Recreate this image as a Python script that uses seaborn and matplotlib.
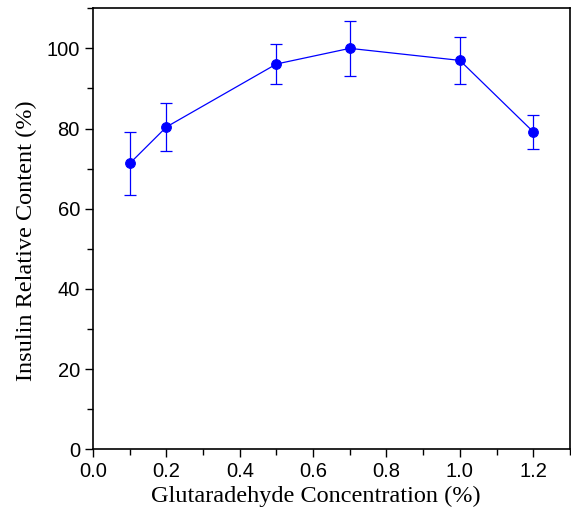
import seaborn as sns
import matplotlib.pyplot as plt
import pandas as pd
from matplotlib.ticker import MultipleLocator

sns.set_style("ticks")
plt.rcParams["text.color"] = "black"
plt.rcParams["axes.labelcolor"] = "black"
plt.rcParams["xtick.color"] = "black"
plt.rcParams["ytick.color"] = "black"

conc = [0.1, 0.2, 0.5, 0.7, 1.0, 1.2]
content = [71.3, 80.4, 96.1, 100.0, 97.0, 79.2]
err = [7.8, 6.0, 4.9, 6.8, 5.9, 4.3]

df = pd.DataFrame({"conc": conc, "content": content, "err": err})

fig, ax = plt.subplots(figsize=(5.71, 5.17), dpi=100)
fig.subplots_adjust(left=0.163, right=0.998, top=0.984, bottom=0.131)

ax.errorbar(df["conc"], df["content"], yerr=df["err"], fmt="none",
            ecolor="blue", elinewidth=0.9, capsize=4, capthick=0.9, zorder=2)
sns.lineplot(data=df, x="conc", y="content", ax=ax, color="blue",
             linewidth=0.9, marker="o", markersize=7, markeredgecolor="blue",
             zorder=3)

ax.set_xlim(0, 1.3)
ax.set_ylim(0, 110)
ax.set_xticks([0.0, 0.2, 0.4, 0.6, 0.8, 1.0, 1.2])
ax.set_yticks([0, 20, 40, 60, 80, 100])
ax.xaxis.set_minor_locator(MultipleLocator(0.1))
ax.yaxis.set_minor_locator(MultipleLocator(10))
ax.tick_params(which="major", length=6, width=1, labelsize=14.5,
               direction="out", color="black", labelcolor="black")
ax.tick_params(which="minor", length=4, width=1, direction="out", color="black")
for lab in ax.get_xticklabels() + ax.get_yticklabels():
    lab.set_fontfamily("Liberation Sans")
for s in ax.spines.values():
    s.set_linewidth(1.2)
    s.set_color("black")

ax.set_xlabel("Glutaradehyde Concentration (%)", fontsize=17.5,
              fontfamily="Liberation Serif", color="black")
ax.set_ylabel("Insulin Relative Content (%)", fontsize=17.5,
              fontfamily="Liberation Serif", color="black")
ax.xaxis.set_label_coords(0.467, -0.083)
ax.yaxis.set_label_coords(-0.118, 0.474)

plt.savefig("out.png", dpi=100)
